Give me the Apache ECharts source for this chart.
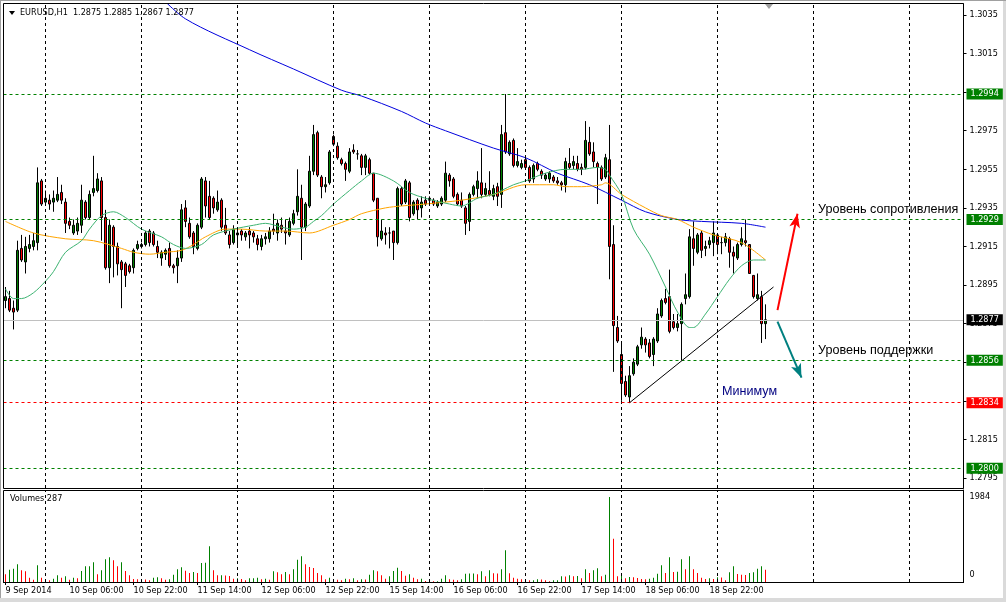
<!DOCTYPE html>
<html><head><meta charset="utf-8">
<script src="https://cdn.jsdelivr.net/npm/echarts@6.0.0/dist/echarts.min.js"></script>
<style>html,body{margin:0;padding:0;background:#fff}#c{width:1006px;height:602px}</style>
</head><body><div id="c"></div><script>
// ---------------- data ----------------
const symbolName = 'EURUSD,H1';
const startTime = '2014-09-09T14:00:00Z';
const totalSlots = 240;           // bars shown incl. empty shift area
const labelEvery = 16;            // time label step (bars)
const MONTHS = ['Jan','Feb','Mar','Apr','May','Jun','Jul','Aug','Sep','Oct','Nov','Dec'];

const opens = [
1.2887,1.2888,1.2883,1.2882,1.2914,1.2907,1.2914,1.2915,1.2917,1.2949,
1.2938,1.2939,1.2938,1.2939,1.2943,1.2938,1.2928,1.2922,1.2923,1.2926,
1.2938,1.2930,1.2943,1.2944,1.2949,1.2930,1.2904,1.2925,1.2915,1.2907,
1.2906,1.2905,1.2904,1.2914,1.2915,1.2916,1.2923,1.2922,1.2915,1.2909,
1.2911,1.2914,1.2905,1.2905,1.2909,1.2935,1.2927,1.2922,1.2914,1.2925,
1.2949,1.2941,1.2940,1.2934,1.2939,1.2926,1.2921,1.2917,1.2921,1.2923,
1.2920,1.2923,1.2922,1.2919,1.2915,1.2919,1.2919,1.2924,1.2922,1.2926,
1.2923,1.2921,1.2927,1.2933,1.2940,1.2925,1.2936,1.2954,1.2974,1.2951,
1.2946,1.2948,1.2972,1.2967,1.2960,1.2958,1.2954,1.2965,1.2963,1.2962,
1.2956,1.2960,1.2953,1.2940,1.2919,1.2922,1.2922,1.2923,1.2917,1.2945,
1.2938,1.2948,1.2932,1.2939,1.2935,1.2939,1.2940,1.2939,1.2936,1.2937,
1.2939,1.2952,1.2950,1.2942,1.2939,1.2935,1.2928,1.2942,1.2945,1.2948,
1.2942,1.2944,1.2941,1.2946,1.2942,1.2974,1.2963,1.2970,1.2957,1.2956,
1.2960,1.2956,1.2950,1.2958,1.2954,1.2950,1.2950,1.2951,1.2949,1.2948,
1.2947,1.2958,1.2957,1.2958,1.2956,1.2956,1.2969,1.2964,1.2958,1.2956,
1.2951,1.2960,1.2916,1.2873,1.2859,1.2845,1.2837,1.2849,1.2854,1.2864,
1.2867,1.2865,1.2859,1.2866,1.2879,1.2888,1.2889,1.2876,1.2873,1.2875,
1.2888,1.2889,1.2919,1.2912,1.2922,1.2914,1.2916,1.2917,1.2921,1.2917,
1.2917,1.2919,1.2912,1.2909,1.2916,1.2918,1.2916,1.2900,1.2888,1.2889,
1.2875];
const highs = [
1.2894,1.2892,1.2887,1.2918,1.2921,1.2920,1.2921,1.2922,1.2956,1.2950,
1.2944,1.2942,1.2944,1.2951,1.2947,1.2940,1.2930,1.2929,1.2930,1.2947,
1.2939,1.2944,1.2962,1.2953,1.2951,1.2934,1.2929,1.2926,1.2917,1.2908,
1.2907,1.2906,1.2914,1.2918,1.2917,1.2923,1.2924,1.2923,1.2918,1.2913,
1.2914,1.2917,1.2906,1.2913,1.2937,1.2939,1.2930,1.2923,1.2927,1.2951,
1.2951,1.2949,1.2941,1.2944,1.2940,1.2935,1.2923,1.2926,1.2924,1.2924,
1.2923,1.2925,1.2923,1.2921,1.2921,1.2922,1.2925,1.2932,1.2929,1.2930,
1.2929,1.2930,1.2934,1.2955,1.2947,1.2938,1.2962,1.2978,1.2975,1.2952,
1.2951,1.2965,1.2973,1.2969,1.2961,1.2959,1.2966,1.2968,1.2965,1.2963,
1.2963,1.2961,1.2953,1.2940,1.2929,1.2925,1.2925,1.2923,1.2946,1.2946,
1.2950,1.2949,1.2939,1.2940,1.2941,1.2941,1.2941,1.2940,1.2939,1.2941,
1.2959,1.2953,1.2951,1.2943,1.2943,1.2936,1.2943,1.2947,1.2954,1.2966,
1.2948,1.2954,1.2947,1.2948,1.2978,1.2994,1.2970,1.2971,1.2966,1.2960,
1.2961,1.2957,1.2958,1.2959,1.2955,1.2953,1.2954,1.2952,1.2951,1.2949,
1.2961,1.2966,1.2962,1.2962,1.2958,1.2980,1.2977,1.2969,1.2959,1.2957,
1.2963,1.2978,1.2926,1.2879,1.2866,1.2848,1.2853,1.2857,1.2864,1.2873,
1.2868,1.2867,1.2868,1.2883,1.2888,1.2893,1.2903,1.2880,1.2880,1.2886,
1.2901,1.2924,1.2928,1.2922,1.2923,1.2918,1.2920,1.2928,1.2922,1.2920,
1.2922,1.2920,1.2915,1.2917,1.2925,1.2929,1.2916,1.2900,1.2901,1.2892,
1.2885];
const lows = [
1.2883,1.2881,1.2872,1.2881,1.2907,1.2901,1.2912,1.2913,1.2913,1.2936,
1.2936,1.2934,1.2933,1.2938,1.2937,1.2922,1.2924,1.2921,1.2921,1.2922,
1.2929,1.2929,1.2941,1.2943,1.2918,1.2903,1.2896,1.2899,1.2900,1.2883,
1.2894,1.2901,1.2901,1.2913,1.2914,1.2915,1.2915,1.2915,1.2909,1.2905,
1.2908,1.2904,1.2901,1.2896,1.2907,1.2925,1.2919,1.2911,1.2913,1.2924,
1.2930,1.2929,1.2932,1.2933,1.2923,1.2921,1.2914,1.2916,1.2915,1.2918,
1.2918,1.2914,1.2917,1.2913,1.2913,1.2916,1.2917,1.2921,1.2918,1.2922,
1.2916,1.2920,1.2926,1.2931,1.2908,1.2923,1.2935,1.2952,1.2951,1.2940,
1.2943,1.2947,1.2967,1.2960,1.2957,1.2949,1.2953,1.2963,1.2960,1.2952,
1.2952,1.2952,1.2938,1.2915,1.2918,1.2916,1.2914,1.2908,1.2916,1.2936,
1.2937,1.2928,1.2931,1.2929,1.2930,1.2936,1.2936,1.2936,1.2935,1.2936,
1.2938,1.2946,1.2940,1.2936,1.2935,1.2921,1.2923,1.2941,1.2940,1.2940,
1.2941,1.2941,1.2939,1.2936,1.2935,1.2963,1.2962,1.2956,1.2956,1.2955,
1.2955,1.2948,1.2948,1.2954,1.2950,1.2949,1.2948,1.2948,1.2947,1.2944,
1.2943,1.2955,1.2955,1.2954,1.2952,1.2955,1.2962,1.2956,1.2937,1.2949,
1.2950,1.2898,1.2850,1.2865,1.2835,1.2837,1.2834,1.2848,1.2853,1.2862,
1.2860,1.2857,1.2853,1.2865,1.2878,1.2885,1.2870,1.2872,1.2871,1.2856,
1.2885,1.2888,1.2905,1.2911,1.2909,1.2910,1.2914,1.2910,1.2911,1.2911,
1.2915,1.2904,1.2901,1.2908,1.2915,1.2915,1.2901,1.2888,1.2887,1.2865,
1.2867];
const closes = [
1.2889,1.2882,1.2881,1.2913,1.2908,1.2915,1.2916,1.2918,1.2948,1.2937,
1.2940,1.2937,1.2940,1.2942,1.2939,1.2927,1.2926,1.2926,1.2927,1.2939,
1.2930,1.2942,1.2945,1.2950,1.2930,1.2904,1.2926,1.2915,1.2906,1.2903,
1.2900,1.2902,1.2913,1.2916,1.2916,1.2922,1.2917,1.2916,1.2912,1.2912,
1.2913,1.2905,1.2904,1.2909,1.2934,1.2928,1.2920,1.2915,1.2926,1.2950,
1.2936,1.2930,1.2935,1.2938,1.2925,1.2922,1.2916,1.2924,1.2922,1.2921,
1.2922,1.2921,1.2920,1.2916,1.2919,1.2920,1.2923,1.2923,1.2927,1.2924,
1.2922,1.2928,1.2932,1.2941,1.2925,1.2937,1.2954,1.2973,1.2952,1.2946,
1.2947,1.2964,1.2968,1.2961,1.2958,1.2955,1.2964,1.2964,1.2963,1.2956,
1.2962,1.2953,1.2939,1.2920,1.2923,1.2921,1.2922,1.2917,1.2945,1.2937,
1.2949,1.2930,1.2938,1.2934,1.2938,1.2937,1.2939,1.2937,1.2938,1.2940,
1.2953,1.2949,1.2941,1.2937,1.2936,1.2927,1.2942,1.2946,1.2949,1.2942,
1.2945,1.2942,1.2945,1.2941,1.2973,1.2964,1.2969,1.2957,1.2959,1.2958,
1.2956,1.2949,1.2957,1.2955,1.2952,1.2952,1.2953,1.2949,1.2948,1.2947,
1.2959,1.2956,1.2959,1.2955,1.2955,1.2970,1.2963,1.2959,1.2956,1.2950,
1.2961,1.2915,1.2874,1.2866,1.2844,1.2838,1.2848,1.2855,1.2863,1.2868,
1.2864,1.2858,1.2867,1.2880,1.2887,1.2886,1.2871,1.2873,1.2875,1.2885,
1.2890,1.2920,1.2914,1.2921,1.2913,1.2915,1.2918,1.2922,1.2916,1.2917,
1.2920,1.2912,1.2910,1.2916,1.2919,1.2917,1.2901,1.2889,1.2890,1.2875,
1.2877];
const volumes = [
179,288,311,412,272,249,101,54,389,101,54,39,78,156,101,132,54,101,86,257,
366,370,459,179,272,529,576,506,366,459,257,156,70,65,72,60,39,101,109,86,
54,62,171,296,342,265,210,233,210,443,450,832,272,156,160,150,140,78,85,70,
39,86,90,101,62,78,54,249,226,179,233,179,296,521,599,412,350,327,210,156,
62,101,62,54,39,78,62,86,39,62,60,171,272,249,156,78,132,257,335,257,
148,179,101,62,78,23,39,16,20,78,156,62,54,39,62,195,196,198,179,249,
132,272,202,200,296,739,202,101,78,62,65,39,42,62,60,39,16,39,41,132,
130,156,132,140,86,296,210,272,319,132,171,1984,1011,132,195,86,117,110,93,70,
62,78,101,195,389,210,576,233,240,529,296,599,296,210,101,70,86,70,109,105,
39,226,366,187,171,163,210,226,311,366,287];

// moving averages: [bar index, value]
const maBlue = [[38,1.3046],[45,1.3033],[61,1.3017],[72,1.3007],[84,1.2996],[89,1.2993],[99,1.2985],[105,1.2979],[110,1.2975],[122,1.2966],[130,1.2961],[138,1.2953],[146,1.2947],[154,1.2939],[160,1.2933],[168,1.2929],[174,1.2928],[184,1.2927],[190,1.2925]];
const maOrange = [[0,1.2928],[7,1.2922],[15,1.2919],[22,1.2918],[29,1.2914],[32,1.2912],[36,1.2911],[40,1.2912],[44,1.2913],[47,1.2916],[50,1.2920],[55,1.2924],[59,1.2924],[65,1.2923],[70,1.2923],[76,1.2922],[82,1.2926],[86,1.2929],[89,1.2932],[95,1.2935],[99,1.2936],[105,1.2937],[114,1.2939],[122,1.2942],[130,1.2947],[137,1.2947],[140,1.2946],[144,1.2946],[149,1.2947],[150,1.2948],[154,1.2942],[160,1.2935],[164,1.2931],[168,1.2929],[172,1.2925],[177,1.2921],[184,1.2917],[190,1.2908]];
const maGreen = [[0,1.2893],[2,1.2888],[4,1.2888],[7,1.2891],[10,1.2897],[12,1.2902],[15,1.2912],[19,1.2918],[21,1.2924],[24,1.2931],[27,1.2933],[30,1.2930],[34,1.2924],[39,1.2920],[42,1.2916],[45,1.2914],[49,1.2916],[52,1.2921],[57,1.2924],[62,1.2926],[65,1.2927],[69,1.2925],[72,1.2924],[75,1.2925],[77,1.2928],[79,1.2931],[82,1.2937],[86,1.2944],[89,1.2949],[92,1.2953],[97,1.2949],[101,1.2943],[105,1.2940],[111,1.2937],[114,1.2936],[118,1.2940],[122,1.2942],[124,1.2944],[127,1.2947],[130,1.2949],[135,1.2953],[140,1.2955],[144,1.2955],[148,1.2956],[150,1.2955],[151,1.2952],[154,1.2942],[157,1.2924],[161,1.2911],[165,1.2894],[168,1.2881],[171,1.2873],[172,1.2873],[175,1.2880],[178,1.2889],[181,1.2898],[184,1.2905],[187,1.2908],[190,1.2908]];

const priceTicks = [1.3035,1.3015,1.2995,1.2975,1.2955,1.2935,1.2915,1.2895,1.2875,1.2855,1.2835,1.2815,1.2795];
const priceTickLabels = [1.3035,1.3015,1.2975,1.2955,1.2935,1.2915,1.2895,1.2875,1.2815,1.2795];
const volumeTickLabels = [0, 1984];
const resistanceLevels = [1.2994, 1.2929];
const supportLevels = [1.2856, 1.2800];
const minimumLevel = 1.2834;
const trendLine = [[156, 1.2834], [192, 1.2894]];
const upArrow = [[193, 1.2882], [198, 1.2932]];
const downArrow = [[193, 1.2876], [199, 1.2847]];
const notes = [
  {text: 'Уровень сопротивления', bar: 203, price: 1.2934},
  {text: 'Уровень поддержки', bar: 203, price: 1.2861},
  {text: 'Минимум', bar: 179, price: 1.2840}
];

// ---------------- build ----------------
const SMALL = '"DejaVu Sans Condensed","DejaVu Sans",sans-serif';
const BIG = '"Liberation Sans",Arial,sans-serif';
const GREEN = '#008000', RED = '#ff0000';
const N = opens.length;
const times = [];
for (let t = Date.parse(startTime); times.length < totalSlots; t += 3600e3) {
  const wd = new Date(t).getUTCDay();
  if (wd !== 0 && wd !== 6) times.push(t);
}
const pad = n => String(n).padStart(2, '0');
const cats = times.map(t => { const d = new Date(t); return d.getUTCFullYear()+'-'+pad(d.getUTCMonth()+1)+'-'+pad(d.getUTCDate())+' '+pad(d.getUTCHours())+':00'; });
const dayIdx = times.map((t, i) => new Date(t).getUTCHours() === 0 ? i : -1).filter(i => i >= 0);
const timeLabel = i => { const d = new Date(times[i]); const base = d.getUTCDate() + ' ' + MONTHS[d.getUTCMonth()];
  return i === 0 ? base + ' ' + d.getUTCFullYear() : base + ' ' + pad(d.getUTCHours()) + ':00'; };
const showLabel = i => i % labelEvery === 0 && i < N;
const f4 = v => v.toFixed(4);
const last = N - 1;
const lastClose = closes[last];

const candleData = opens.map((o, i) => [o, closes[i], lows[i], highs[i]]);
const volData = volumes.map((v, i) => ({value: v, itemStyle: {color: (i > 0 && v > volumes[i-1]) ? GREEN : RED}}));

const boxLabel = (bg, v) => ({show: true, position: 'end', distance: 3, formatter: f4(v),
  color: '#fff', backgroundColor: bg, padding: [1, 4, 1, 4], fontSize: 9, lineHeight: 9, fontFamily: SMALL});
const levelLine = (v, color, dashed, bg) => ({yAxis: v, lineStyle: {color, type: dashed ? [3, 3] : 'solid', width: 1}, label: boxLabel(bg, v)});

const levelsData = [
  ...resistanceLevels.map(v => levelLine(v, GREEN, true, GREEN)),
  levelLine(lastClose, '#c0c0c0', false, '#000'),
  ...supportLevels.map(v => levelLine(v, GREEN, true, GREEN)),
  levelLine(minimumLevel, RED, true, RED),
  [{coord: [cats[trendLine[0][0]], trendLine[0][1]], symbol: 'none'},
   {coord: [cats[trendLine[1][0]], trendLine[1][1]], symbol: 'none', lineStyle: {color: '#000', type: 'solid', width: 1}, label: {show: false}}],
  [{coord: [cats[upArrow[0][0]], upArrow[0][1]], symbol: 'none'},
   {coord: [cats[upArrow[1][0]], upArrow[1][1]], symbol: 'arrow', symbolSize: [8, 14], lineStyle: {color: RED, type: 'solid', width: 2}, label: {show: false}}],
  [{coord: [cats[downArrow[0][0]], downArrow[0][1]], symbol: 'none'},
   {coord: [cats[downArrow[1][0]], downArrow[1][1]], symbol: 'arrow', symbolSize: [8, 14], lineStyle: {color: '#008080', type: 'solid', width: 2}, label: {show: false}}]
];
const noteColors = ['#000', '#000', '#000080'];

const chart = echarts.init(document.getElementById('c'), null, {renderer: 'canvas'});
chart.setOption({
  animation: false,
  backgroundColor: '#fff',
  title: [
    {text: `${symbolName}  ${f4(opens[last])} ${f4(highs[last])} ${f4(lows[last])} ${f4(closes[last])}`, left: 20, top: 8, padding: 0,
     textStyle: {fontSize: 9, fontWeight: 'normal', color: '#000', fontFamily: SMALL}},
    {text: 'Volumes ' + volumes[last], left: 10, top: 494, padding: 0,
     textStyle: {fontSize: 9, fontWeight: 'normal', color: '#000', fontFamily: SMALL}}
  ],
  grid: [
    {left: 3.5, top: 4, width: 960, height: 484},
    {left: 3.5, top: 490, width: 960, height: 92}
  ],
  xAxis: [
    {type: 'category', gridIndex: 0, data: cats, boundaryGap: true, show: false},
    {type: 'category', gridIndex: 1, data: cats, boundaryGap: true,
     axisLine: {show: true, lineStyle: {color: '#000', width: 1}},
     axisTick: {show: true, alignWithLabel: true, interval: (i) => showLabel(i), length: 3, lineStyle: {color: '#000'}},
     axisLabel: {interval: (i) => showLabel(i), formatter: (v, i) => timeLabel(i), align: 'left', margin: 4,
       fontSize: 9, color: '#000', fontFamily: SMALL},
     splitLine: {show: false}}
  ],
  yAxis: [
    {type: 'value', gridIndex: 0, position: 'right', min: 1.27898, max: 1.30407, splitLine: {show: false},
     axisLine: {show: true, lineStyle: {color: '#000'}},
     axisTick: {show: true, customValues: priceTicks, length: 3, lineStyle: {color: '#000'}},
     axisLabel: {customValues: priceTickLabels, formatter: v => f4(v), margin: 6, fontSize: 9, color: '#000', fontFamily: SMALL}},
    {type: 'value', gridIndex: 1, position: 'right', min: 0, max: 2147, splitLine: {show: false},
     axisLine: {show: true, lineStyle: {color: '#000'}}, axisTick: {show: false},
     axisLabel: {customValues: volumeTickLabels, formatter: v => v === 0 ? '{z|0}' : String(v), margin: 6,
       fontSize: 9, color: '#000', fontFamily: SMALL, rich: {z: {padding: [0, 0, 14, 0], fontSize: 9, fontFamily: SMALL, color: '#000'}}}}
  ],
  series: [
    {name: 'gridMain', type: 'line', xAxisIndex: 0, yAxisIndex: 0, data: closes, symbol: 'none', silent: true, z: 1,
     lineStyle: {opacity: 0},
     markLine: {silent: true, symbol: 'none', label: {show: false}, lineStyle: {color: '#000', type: [3, 3], width: 1},
       data: dayIdx.map(i => ({xAxis: cats[i]}))}},
    {name: 'Volumes', type: 'bar', xAxisIndex: 1, yAxisIndex: 1, data: volData, barWidth: 1, silent: true, z: 2,
     markLine: {silent: true, symbol: 'none', label: {show: false}, lineStyle: {color: '#000', type: [3, 3], width: 1},
       data: dayIdx.map(i => ({xAxis: cats[i]}))}},
    {name: 'EURUSD', type: 'candlestick', xAxisIndex: 0, yAxisIndex: 0, data: candleData, barWidth: 2, z: 3,
     itemStyle: {color: GREEN, color0: RED, borderColor: '#000', borderColor0: '#000', borderWidth: 1}},
    {name: 'MA slow', type: 'line', data: maBlue, symbol: 'none', smooth: 0.3, z: 4, lineStyle: {color: '#0000dd', width: 1}},
    {name: 'MA mid', type: 'line', data: maOrange, symbol: 'none', smooth: 0.3, z: 4, lineStyle: {color: '#ffa500', width: 1}},
    {name: 'MA fast', type: 'line', data: maGreen, symbol: 'none', smooth: 0.3, z: 4, lineStyle: {color: '#3cb371', width: 1}},
    {name: 'levels', type: 'line', xAxisIndex: 0, yAxisIndex: 0, data: closes, symbol: 'none', silent: true, z: 5,
     lineStyle: {opacity: 0},
     markLine: {silent: true, precision: 5, symbol: ['none', 'none'], data: levelsData},
     markPoint: {silent: true, data: notes.map((n, k) => ({coord: [cats[n.bar], n.price], value: n.text, symbol: 'circle', symbolSize: 1,
       itemStyle: {color: 'rgba(0,0,0,0)'},
       label: {show: true, position: 'right', distance: 0, formatter: n.text, color: noteColors[k], fontSize: 12.6, fontFamily: BIG}}))}}
  ],
  graphic: [
    {type: 'rect', z: 100, shape: {x: 3.5, y: 3.5, width: 960, height: 485}, style: {fill: null, stroke: '#000', lineWidth: 1}},
    {type: 'rect', z: 100, shape: {x: 3.5, y: 490.5, width: 960, height: 92}, style: {fill: null, stroke: '#000', lineWidth: 1}},
    {type: 'rect', z: 100, shape: {x: 1003, y: 0, width: 3, height: 602}, style: {fill: '#dadada'}},
    {type: 'rect', z: 100, shape: {x: 0, y: 598, width: 1006, height: 4}, style: {fill: '#dadada'}},
    {type: 'rect', z: 100, shape: {x: 0, y: 0, width: 1006, height: 1}, style: {fill: '#a0a0a0'}},
    {type: 'rect', z: 100, shape: {x: 0, y: 0, width: 1, height: 598}, style: {fill: '#a0a0a0'}},
    {type: 'polygon', z: 100, shape: {points: [[9, 11], [15, 11], [12, 15]]}, style: {fill: '#000'}},
    {type: 'polygon', z: 100, shape: {points: [[765, 4], [773, 4], [769, 9]]}, style: {fill: '#a0a0a0'}}
  ]
});
</script></body></html>
